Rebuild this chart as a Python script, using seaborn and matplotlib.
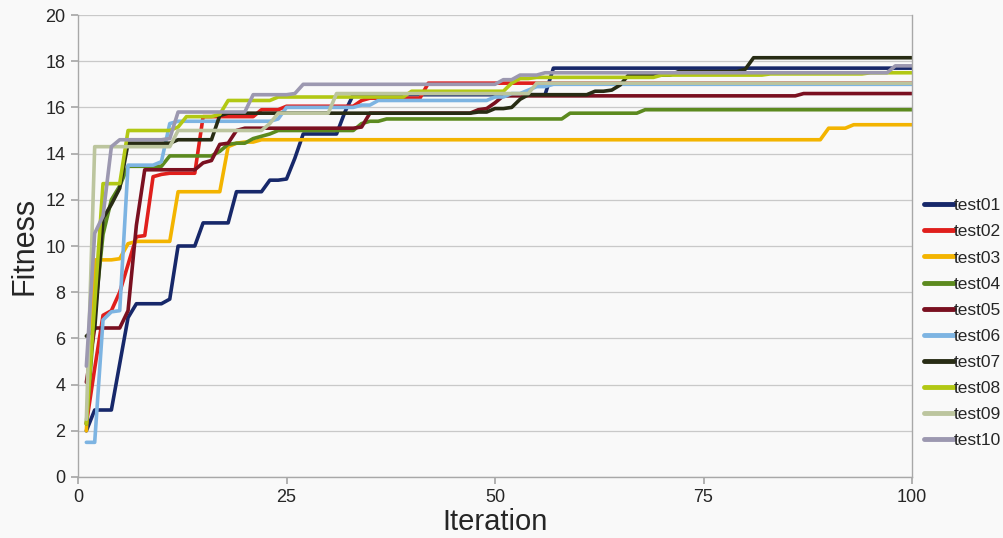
import numpy as np
import pandas as pd
import matplotlib
matplotlib.use("Agg")
import matplotlib.pyplot as plt
import seaborn as sns

# Best fitness per iteration for ten runs, stored as (iteration, value) change points;
# the value holds until the next listed iteration.
test01_it = [1, 2, 5, 6, 7, 11, 12, 15, 19, 23, 25, 26, 27, 32, 33, 57]
test01_fit = [2.0, 2.9, 4.9, 6.9, 7.5, 7.7, 10.0, 11.0, 12.35, 12.85, 12.9, 13.8, 14.85, 15.8, 16.55, 17.7]

test02_it = [1, 2, 3, 4, 5, 6, 7, 8, 9, 10, 11, 15, 22, 25, 34, 35, 42]
test02_fit = [2.3, 4.7, 7.0, 7.2, 8.0, 9.2, 10.4, 10.45, 13.0, 13.1, 13.15, 15.6, 15.9, 16.05, 16.3, 16.4, 17.05]

test03_it = [1, 2, 5, 6, 7, 12, 18, 19, 20, 22, 90, 93]
test03_fit = [2.0, 9.4, 9.45, 10.1, 10.2, 12.35, 14.3, 14.45, 14.5, 14.6, 15.1, 15.25]

test04_it = [1, 2, 3, 4, 5, 6, 11, 17, 18, 19, 21, 22, 23, 24, 34, 35, 37, 59, 68]
test04_fit = [2.3, 7.0, 10.5, 12.0, 12.6, 13.45, 13.9, 14.1, 14.4, 14.45, 14.65, 14.75, 14.85, 15.0, 15.3, 15.4, 15.5, 15.75, 15.9]

test05_it = [1, 2, 6, 7, 8, 15, 16, 17, 18, 19, 20, 34, 35, 48, 49, 50, 51, 87]
test05_fit = [4.1, 6.45, 7.2, 10.9, 13.3, 13.6, 13.7, 14.4, 14.45, 15.0, 15.1, 15.15, 15.75, 15.9, 15.95, 16.2, 16.5, 16.6]

test06_it = [1, 3, 4, 5, 6, 10, 11, 12, 24, 25, 34, 36, 50, 52, 54, 55, 57]
test06_fit = [1.5, 6.8, 7.15, 7.2, 13.5, 13.65, 15.3, 15.4, 15.5, 16.0, 16.1, 16.3, 16.45, 16.6, 16.75, 16.9, 17.0]

test07_it = [1, 2, 3, 4, 5, 6, 12, 17, 18, 48, 50, 52, 53, 54, 62, 64, 65, 66, 72, 80, 81]
test07_fit = [6.1, 6.4, 11.2, 11.8, 12.5, 14.45, 14.6, 15.65, 15.75, 15.8, 15.95, 16.0, 16.35, 16.55, 16.7, 16.75, 16.97, 17.4, 17.55, 17.65, 18.15]

test08_it = [1, 2, 3, 6, 12, 13, 17, 18, 24, 40, 52, 53, 55, 70, 83, 95]
test08_fit = [2.3, 7.5, 12.7, 15.0, 15.15, 15.6, 15.7, 16.3, 16.45, 16.7, 17.05, 17.25, 17.3, 17.4, 17.45, 17.5]

test09_it = [1, 2, 12, 23, 24, 31, 55]
test09_fit = [2.5, 14.3, 15.0, 15.3, 15.75, 16.6, 17.05]

test10_it = [1, 2, 3, 4, 5, 11, 12, 21, 26, 27, 51, 53, 56, 98]
test10_fit = [4.8, 10.55, 11.3, 14.3, 14.6, 14.65, 15.8, 16.55, 16.6, 17.0, 17.2, 17.4, 17.5, 17.8]

names = ["test01", "test02", "test03", "test04", "test05",
         "test06", "test07", "test08", "test09", "test10"]
colors = ["#17286a", "#e01f1c", "#f3b400", "#5c8a1f", "#7a1020",
          "#7db4e2", "#282c14", "#b2c814", "#bcc59e", "#9c98b0"]

series_pts = [
    (test01_it, test01_fit), (test02_it, test02_fit), (test03_it, test03_fit),
    (test04_it, test04_fit), (test05_it, test05_fit), (test06_it, test06_fit),
    (test07_it, test07_fit), (test08_it, test08_fit), (test09_it, test09_fit),
    (test10_it, test10_fit),
]

iterations = np.arange(1, 101)
frames = []
for name, (its, fits) in zip(names, series_pts):
    held = pd.Series(fits, index=its).reindex(iterations).ffill()
    frames.append(pd.DataFrame({"Iteration": iterations, "Fitness": held.values, "run": name}))
df = pd.concat(frames, ignore_index=True)

sns.set_theme(style="white")
plt.rcParams["font.family"] = ["Liberation Sans", "DejaVu Sans"]

fig = plt.figure(figsize=(10.04, 5.38), dpi=100, facecolor="#f9f9f9")
ax = fig.add_axes([0.0777, 0.1134, 0.8307, 0.8587])
ax.set_facecolor("#f9f9f9")

sns.lineplot(data=df, x="Iteration", y="Fitness", hue="run",
             palette=dict(zip(names, colors)), linewidth=2.6, ax=ax,
             legend=True)

ax.set_xlim(0, 100)
ax.set_ylim(0, 20)
ax.set_xticks([0, 25, 50, 75, 100])
ax.set_yticks(np.arange(0, 21, 2))
ax.yaxis.grid(True, color="#c9c9c9", linewidth=0.9)
ax.xaxis.grid(False)
for side in ["left", "bottom", "right"]:
    ax.spines[side].set_color("#a8a8a8")
    ax.spines[side].set_linewidth(1.0)
ax.spines["top"].set_visible(False)
ax.tick_params(axis="both", which="major", labelsize=13, length=5,
               color="#a8a8a8", direction="out", pad=4,
               bottom=True, left=True)
ax.set_xlabel("Iteration", fontsize=21, labelpad=1)
ax.set_ylabel("Fitness", fontsize=22, labelpad=4)

handles, labels = ax.get_legend_handles_labels()
for h in handles:
    h.set_linewidth(3.5)
leg = ax.legend(handles, labels, loc="center left", bbox_to_anchor=(1.0, 0.333),
                frameon=False, fontsize=12.5, handlelength=1.7,
                handletextpad=0.0, labelspacing=0.63, borderaxespad=0.3)

fig.savefig("out.png", dpi=100, facecolor=fig.get_facecolor())
